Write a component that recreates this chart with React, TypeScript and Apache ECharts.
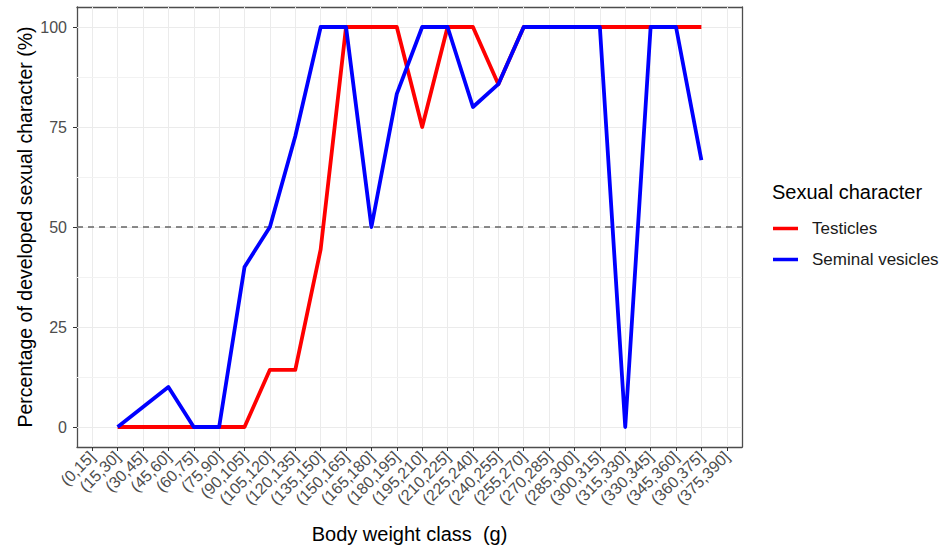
import React, { useEffect, useRef } from "react";
import * as echarts from "echarts";

// Body weight classes (g) on the x axis
const weightClasses = [
  "(0,15]", "(15,30]", "(30,45]", "(45,60]", "(60,75]", "(75,90]", "(90,105]",
  "(105,120]", "(120,135]", "(135,150]", "(150,165]", "(165,180]", "(180,195]",
  "(195,210]", "(210,225]", "(225,240]", "(240,255]", "(255,270]", "(270,285]",
  "(285,300]", "(300,315]", "(315,330]", "(330,345]", "(345,360]", "(360,375]",
  "(375,390]",
];

// Percentage of animals with the developed character, per class (null = no animals)
const testicles: (number | null)[] = [
  null, 0, 0, 0, 0, 0, 0, 14.3, 14.3, 44.4, 100, 100, 100, 75, 100, 100, 85.7,
  100, 100, 100, 100, 100, 100, 100, 100, null,
];
const seminalVesicles: (number | null)[] = [
  null, 0, 5, 10, 0, 0, 40, 50, 72.7, 100, 100, 50, 83.3, 100, 100, 80, 85.7,
  100, 100, 100, 100, 0, 100, 100, 66.7, null,
];

const yTicks = [0, 25, 50, 75, 100];
const yMinorTicks = [12.5, 37.5, 62.5, 87.5];
const threshold = 50;

const FONT = "'Liberation Sans', Arial, sans-serif";
const X_RANGE = { min: -0.6, max: 25.6 };
const Y_RANGE = { min: -5, max: 105 };
const FRAME = { show: true, onZero: false, lineStyle: { color: "#4d4d4d", width: 1.3 } };

const toPairs = (vals: (number | null)[]) =>
  vals
    .map((v, i) => (v === null ? null : [i, v]))
    .filter((p) => p !== null) as number[][];

// frame-only axis for the top / right edges of the panel
const frameAxis = (position: string, range: { min: number; max: number }) => ({
  type: "value",
  position,
  ...range,
  axisLine: FRAME,
  axisTick: { show: false },
  axisLabel: { show: false },
  splitLine: { show: false },
});

export default function App() {
  const ref = useRef<HTMLDivElement>(null);

  useEffect(() => {
    if (!ref.current) return;
    const chart = echarts.init(ref.current, undefined, { renderer: "svg" });
    const classIdx = weightClasses.map((_, i) => i);

    chart.setOption({
      animation: false,
      backgroundColor: "#ffffff",
      textStyle: { fontFamily: FONT },
      grid: { left: 77, right: 199, top: 7, bottom: 103 },
      legend: {
        orient: "vertical",
        left: 773,
        top: 219,
        padding: 0,
        icon: "rect",
        itemWidth: 25,
        itemHeight: 3.5,
        itemGap: 12,
        textStyle: {
          fontFamily: FONT,
          fontSize: 17,
          color: "#1a1a1a",
          lineHeight: 19,
          padding: [0, 0, 0, 9],
        },
        data: ["Testicles", "Seminal vesicles"],
      },
      graphic: [
        {
          type: "text",
          left: 772,
          top: 182,
          style: {
            text: "Sexual character",
            fontFamily: FONT,
            fontSize: 20,
            fill: "#000000",
          },
        },
      ],
      xAxis: [
        {
          type: "value",
          position: "bottom",
          ...X_RANGE,
          name: "Body weight class  (g)",
          nameLocation: "middle",
          nameGap: 77,
          nameTextStyle: { fontFamily: FONT, fontSize: 20, color: "#000000" },
          axisLine: FRAME,
          axisTick: {
            show: true,
            customValues: classIdx,
            length: 4,
            lineStyle: { color: "#333333", width: 1 },
          },
          axisLabel: {
            customValues: classIdx,
            rotate: 45,
            margin: 7,
            fontFamily: FONT,
            fontSize: 16,
            color: "#4d4d4d",
            formatter: (v: number) => weightClasses[Math.round(v)] ?? "",
          },
          splitLine: { show: false },
        },
        frameAxis("top", X_RANGE),
      ],
      yAxis: [
        {
          type: "value",
          position: "left",
          ...Y_RANGE,
          name: "Percentage of developed sexual character (%)",
          nameLocation: "middle",
          nameGap: 42,
          nameMoveOverlap: false,
          nameTextStyle: { fontFamily: FONT, fontSize: 19.5, color: "#000000" },
          axisLine: FRAME,
          axisTick: {
            show: true,
            customValues: yTicks,
            length: 4,
            lineStyle: { color: "#333333", width: 1 },
          },
          axisLabel: {
            customValues: yTicks,
            margin: 10,
            fontFamily: FONT,
            fontSize: 16,
            color: "#4d4d4d",
          },
          splitLine: { show: false },
        },
        frameAxis("right", Y_RANGE),
      ],
      series: [
        {
          // panel grid lines
          name: "grid",
          type: "line",
          data: [],
          silent: true,
          z: 1,
          markLine: {
            silent: true,
            symbol: "none",
            z: 1,
            label: { show: false },
            emphasis: { disabled: true },
            lineStyle: { color: "#ebebeb", width: 1, type: "solid" },
            data: [
              ...classIdx.map((i) => ({ xAxis: i })),
              ...yTicks.map((v) => ({ yAxis: v })),
              ...yMinorTicks.map((v) => ({
                yAxis: v,
                lineStyle: { color: "#f2f2f2", width: 1 },
              })),
            ],
          },
        },
        {
          // 50 % reference line
          name: "threshold",
          type: "line",
          data: [],
          silent: true,
          z: 2,
          markLine: {
            silent: true,
            symbol: "none",
            z: 2,
            label: { show: false },
            emphasis: { disabled: true },
            lineStyle: { color: "#666666", width: 1.6, type: [6, 5] },
            data: [{ yAxis: threshold }],
          },
        },
        {
          name: "Testicles",
          type: "line",
          data: toPairs(testicles),
          showSymbol: false,
          symbol: "none",
          clip: false,
          z: 3,
          itemStyle: { color: "#ff0000" },
          lineStyle: { color: "#ff0000", width: 3.8, join: "round" },
          emphasis: { disabled: true },
        },
        {
          name: "Seminal vesicles",
          type: "line",
          data: toPairs(seminalVesicles),
          showSymbol: false,
          symbol: "none",
          clip: false,
          z: 4,
          itemStyle: { color: "#0000ff" },
          lineStyle: { color: "#0000ff", width: 3.8, join: "round" },
          emphasis: { disabled: true },
        },
      ],
    });

    return () => chart.dispose();
  }, []);

  return (
    <div
      ref={ref}
      style={{ position: "fixed", left: 0, top: 0, width: 941, height: 550 }}
    />
  );
}
